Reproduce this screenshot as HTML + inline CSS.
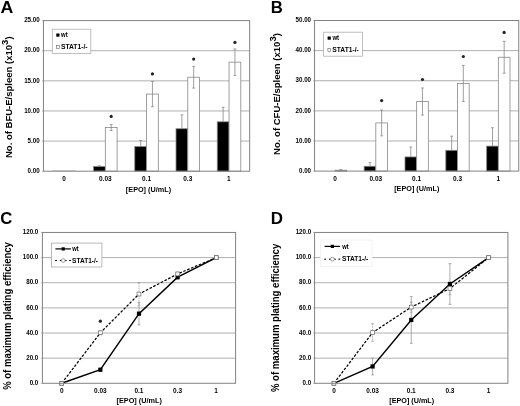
<!DOCTYPE html><html><head><meta charset="utf-8"><style>html,body{margin:0;padding:0;background:#fff;}svg{display:block;filter:blur(0.3px);}text{font-family:"Liberation Sans", sans-serif;font-weight:bold;fill:#000;}</style></head><body>
<svg width="520" height="406" viewBox="0 0 520 406">
<rect width="520" height="406" fill="#fff"/>
<line x1="41.85" y1="171.20" x2="43.45" y2="171.20" stroke="#b4b4b4" stroke-width="0.8" />
<text x="27.59" y="172.90" font-size="7.00" textLength="12.07" lengthAdjust="spacingAndGlyphs">0.00</text>
<line x1="43.45" y1="141.08" x2="249.65" y2="141.08" stroke="#b0b0b0" stroke-width="1" />
<line x1="41.85" y1="141.08" x2="43.45" y2="141.08" stroke="#b4b4b4" stroke-width="0.8" />
<text x="27.59" y="142.78" font-size="7.00" textLength="12.07" lengthAdjust="spacingAndGlyphs">5.00</text>
<line x1="43.45" y1="110.96" x2="249.65" y2="110.96" stroke="#b0b0b0" stroke-width="1" />
<line x1="41.85" y1="110.96" x2="43.45" y2="110.96" stroke="#b4b4b4" stroke-width="0.8" />
<text x="24.14" y="112.66" font-size="7.00" textLength="15.52" lengthAdjust="spacingAndGlyphs">10.00</text>
<line x1="43.45" y1="80.84" x2="249.65" y2="80.84" stroke="#b0b0b0" stroke-width="1" />
<line x1="41.85" y1="80.84" x2="43.45" y2="80.84" stroke="#b4b4b4" stroke-width="0.8" />
<text x="24.14" y="82.54" font-size="7.00" textLength="15.52" lengthAdjust="spacingAndGlyphs">15.00</text>
<line x1="43.45" y1="50.72" x2="249.65" y2="50.72" stroke="#b0b0b0" stroke-width="1" />
<line x1="41.85" y1="50.72" x2="43.45" y2="50.72" stroke="#b4b4b4" stroke-width="0.8" />
<text x="24.14" y="52.42" font-size="7.00" textLength="15.52" lengthAdjust="spacingAndGlyphs">20.00</text>
<line x1="41.85" y1="20.60" x2="43.45" y2="20.60" stroke="#b4b4b4" stroke-width="0.8" />
<text x="24.14" y="22.30" font-size="7.00" textLength="15.52" lengthAdjust="spacingAndGlyphs">25.00</text>
<text x="62.27" y="180.60" font-size="7.00" textLength="3.61" lengthAdjust="spacingAndGlyphs">0</text>
<text x="98.97" y="180.60" font-size="7.00" textLength="12.65" lengthAdjust="spacingAndGlyphs">0.03</text>
<text x="141.99" y="180.60" font-size="7.00" textLength="9.04" lengthAdjust="spacingAndGlyphs">0.1</text>
<text x="183.26" y="180.60" font-size="7.00" textLength="9.04" lengthAdjust="spacingAndGlyphs">0.3</text>
<text x="227.11" y="180.60" font-size="7.00" textLength="3.61" lengthAdjust="spacingAndGlyphs">1</text>
<text x="125.89" y="192.20" font-size="7.20" textLength="45.17" lengthAdjust="spacingAndGlyphs">[EPO] (U/mL)</text>
<text transform="translate(11.80,158.04) rotate(-90)" x="0" y="0" font-size="9.40" textLength="121.61" lengthAdjust="spacingAndGlyphs">No. of BFU-E/spleen (x10<tspan font-size="9.40" dy="-3.80">3</tspan><tspan dy="3.80">)</tspan></text>
<text x="0.56" y="13.00" font-size="16.00" textLength="12.81" lengthAdjust="spacingAndGlyphs">A</text>
<line x1="52.29" y1="170.60" x2="75.85" y2="170.60" stroke="#c8c8c8" stroke-width="0.8" />
<rect x="93.53" y="166.50" width="11.78" height="4.70" fill="#000" stroke="#888888" stroke-width="0.8" />
<line x1="99.42" y1="165.78" x2="99.42" y2="166.50" stroke="#888888" stroke-width="0.8" />
<line x1="98.02" y1="165.78" x2="100.82" y2="165.78" stroke="#888888" stroke-width="0.8" />
<rect x="105.31" y="127.53" width="11.78" height="43.67" fill="#fff" stroke="#888888" stroke-width="0.8" />
<line x1="111.20" y1="124.51" x2="111.20" y2="130.54" stroke="#888888" stroke-width="0.8" />
<line x1="109.80" y1="124.51" x2="112.60" y2="124.51" stroke="#888888" stroke-width="0.8" />
<line x1="109.80" y1="130.54" x2="112.60" y2="130.54" stroke="#888888" stroke-width="0.8" />
<circle cx="111.20" cy="116.40" r="1.6" fill="#222"/>
<rect x="134.77" y="146.50" width="11.78" height="24.70" fill="#000" stroke="#888888" stroke-width="0.8" />
<line x1="140.66" y1="140.48" x2="140.66" y2="146.50" stroke="#888888" stroke-width="0.8" />
<line x1="139.26" y1="140.48" x2="142.06" y2="140.48" stroke="#888888" stroke-width="0.8" />
<rect x="146.55" y="94.09" width="11.78" height="77.11" fill="#fff" stroke="#888888" stroke-width="0.8" />
<line x1="152.44" y1="81.44" x2="152.44" y2="106.74" stroke="#888888" stroke-width="0.8" />
<line x1="151.04" y1="81.44" x2="153.84" y2="81.44" stroke="#888888" stroke-width="0.8" />
<line x1="151.04" y1="106.74" x2="153.84" y2="106.74" stroke="#888888" stroke-width="0.8" />
<circle cx="152.44" cy="73.90" r="1.6" fill="#222"/>
<rect x="176.01" y="128.73" width="11.78" height="42.47" fill="#000" stroke="#888888" stroke-width="0.8" />
<line x1="181.90" y1="114.88" x2="181.90" y2="128.73" stroke="#888888" stroke-width="0.8" />
<line x1="180.50" y1="114.88" x2="183.30" y2="114.88" stroke="#888888" stroke-width="0.8" />
<rect x="187.79" y="77.23" width="11.78" height="93.97" fill="#fff" stroke="#888888" stroke-width="0.8" />
<line x1="193.68" y1="66.38" x2="193.68" y2="88.07" stroke="#888888" stroke-width="0.8" />
<line x1="192.28" y1="66.38" x2="195.08" y2="66.38" stroke="#888888" stroke-width="0.8" />
<line x1="192.28" y1="88.07" x2="195.08" y2="88.07" stroke="#888888" stroke-width="0.8" />
<circle cx="193.68" cy="59.10" r="1.6" fill="#222"/>
<rect x="217.25" y="121.80" width="11.78" height="49.40" fill="#000" stroke="#888888" stroke-width="0.8" />
<line x1="223.14" y1="107.35" x2="223.14" y2="121.80" stroke="#888888" stroke-width="0.8" />
<line x1="221.74" y1="107.35" x2="224.54" y2="107.35" stroke="#888888" stroke-width="0.8" />
<rect x="229.03" y="62.17" width="11.78" height="109.03" fill="#fff" stroke="#888888" stroke-width="0.8" />
<line x1="234.92" y1="48.91" x2="234.92" y2="75.42" stroke="#888888" stroke-width="0.8" />
<line x1="233.52" y1="48.91" x2="236.32" y2="48.91" stroke="#888888" stroke-width="0.8" />
<line x1="233.52" y1="75.42" x2="236.32" y2="75.42" stroke="#888888" stroke-width="0.8" />
<circle cx="234.92" cy="42.40" r="1.6" fill="#222"/>
<rect x="43.45" y="20.60" width="206.20" height="150.60" fill="none" stroke="#828282" stroke-width="1" />
<rect x="52.30" y="29.20" width="38.50" height="24.20" fill="#fff" stroke="#b0b0b0" stroke-width="0.8" />
<rect x="56.30" y="33.50" width="3.20" height="3.20" fill="#000" stroke="none" stroke-width="1" />
<text x="61.12" y="37.30" font-size="6.30" textLength="6.66" lengthAdjust="spacingAndGlyphs">wt</text>
<rect x="56.60" y="45.60" width="2.80" height="2.80" fill="#fff" stroke="#666" stroke-width="0.6" />
<text x="60.91" y="48.80" font-size="6.30" textLength="26.65" lengthAdjust="spacingAndGlyphs">STAT1-/-</text>
<line x1="312.95" y1="171.10" x2="314.55" y2="171.10" stroke="#b4b4b4" stroke-width="0.8" />
<text x="298.99" y="172.80" font-size="7.00" textLength="12.07" lengthAdjust="spacingAndGlyphs">0.00</text>
<line x1="314.55" y1="140.98" x2="518.75" y2="140.98" stroke="#b0b0b0" stroke-width="1" />
<line x1="312.95" y1="140.98" x2="314.55" y2="140.98" stroke="#b4b4b4" stroke-width="0.8" />
<text x="295.54" y="142.68" font-size="7.00" textLength="15.52" lengthAdjust="spacingAndGlyphs">10.00</text>
<line x1="314.55" y1="110.86" x2="518.75" y2="110.86" stroke="#b0b0b0" stroke-width="1" />
<line x1="312.95" y1="110.86" x2="314.55" y2="110.86" stroke="#b4b4b4" stroke-width="0.8" />
<text x="295.54" y="112.56" font-size="7.00" textLength="15.52" lengthAdjust="spacingAndGlyphs">20.00</text>
<line x1="314.55" y1="80.74" x2="518.75" y2="80.74" stroke="#b0b0b0" stroke-width="1" />
<line x1="312.95" y1="80.74" x2="314.55" y2="80.74" stroke="#b4b4b4" stroke-width="0.8" />
<text x="295.54" y="82.44" font-size="7.00" textLength="15.52" lengthAdjust="spacingAndGlyphs">30.00</text>
<line x1="314.55" y1="50.62" x2="518.75" y2="50.62" stroke="#b0b0b0" stroke-width="1" />
<line x1="312.95" y1="50.62" x2="314.55" y2="50.62" stroke="#b4b4b4" stroke-width="0.8" />
<text x="295.54" y="52.32" font-size="7.00" textLength="15.52" lengthAdjust="spacingAndGlyphs">40.00</text>
<line x1="312.95" y1="20.50" x2="314.55" y2="20.50" stroke="#b4b4b4" stroke-width="0.8" />
<text x="295.54" y="22.20" font-size="7.00" textLength="15.52" lengthAdjust="spacingAndGlyphs">50.00</text>
<text x="333.17" y="180.80" font-size="7.00" textLength="3.61" lengthAdjust="spacingAndGlyphs">0</text>
<text x="369.47" y="180.80" font-size="7.00" textLength="12.65" lengthAdjust="spacingAndGlyphs">0.03</text>
<text x="412.09" y="180.80" font-size="7.00" textLength="9.04" lengthAdjust="spacingAndGlyphs">0.1</text>
<text x="452.96" y="180.80" font-size="7.00" textLength="9.04" lengthAdjust="spacingAndGlyphs">0.3</text>
<text x="496.41" y="180.80" font-size="7.00" textLength="3.61" lengthAdjust="spacingAndGlyphs">1</text>
<text x="394.19" y="190.80" font-size="7.20" textLength="45.17" lengthAdjust="spacingAndGlyphs">[EPO] (U/mL)</text>
<text transform="translate(280.10,154.94) rotate(-90)" x="0" y="0" font-size="9.40" textLength="121.81" lengthAdjust="spacingAndGlyphs">No. of CFU-E/spleen (x10<tspan font-size="9.40" dy="-3.80">3</tspan><tspan dy="3.80">)</tspan></text>
<text x="270.88" y="13.00" font-size="16.00" textLength="12.08" lengthAdjust="spacingAndGlyphs">B</text>
<rect x="334.97" y="170.20" width="11.67" height="0.90" fill="#fff" stroke="#888888" stroke-width="0.8" />
<line x1="340.80" y1="169.59" x2="340.80" y2="170.80" stroke="#888888" stroke-width="0.8" />
<line x1="339.40" y1="169.59" x2="342.20" y2="169.59" stroke="#888888" stroke-width="0.8" />
<line x1="339.40" y1="170.80" x2="342.20" y2="170.80" stroke="#888888" stroke-width="0.8" />
<rect x="364.14" y="166.28" width="11.67" height="4.82" fill="#000" stroke="#888888" stroke-width="0.8" />
<line x1="369.98" y1="162.67" x2="369.98" y2="166.28" stroke="#888888" stroke-width="0.8" />
<line x1="368.58" y1="162.67" x2="371.38" y2="162.67" stroke="#888888" stroke-width="0.8" />
<rect x="375.81" y="122.91" width="11.67" height="48.19" fill="#fff" stroke="#888888" stroke-width="0.8" />
<line x1="381.64" y1="109.96" x2="381.64" y2="135.86" stroke="#888888" stroke-width="0.8" />
<line x1="380.24" y1="109.96" x2="383.04" y2="109.96" stroke="#888888" stroke-width="0.8" />
<line x1="380.24" y1="135.86" x2="383.04" y2="135.86" stroke="#888888" stroke-width="0.8" />
<circle cx="381.64" cy="100.60" r="1.6" fill="#222"/>
<rect x="404.98" y="156.94" width="11.67" height="14.16" fill="#000" stroke="#888888" stroke-width="0.8" />
<line x1="410.82" y1="147.00" x2="410.82" y2="156.94" stroke="#888888" stroke-width="0.8" />
<line x1="409.42" y1="147.00" x2="412.22" y2="147.00" stroke="#888888" stroke-width="0.8" />
<rect x="416.65" y="101.52" width="11.67" height="69.58" fill="#fff" stroke="#888888" stroke-width="0.8" />
<line x1="422.48" y1="87.97" x2="422.48" y2="115.08" stroke="#888888" stroke-width="0.8" />
<line x1="421.08" y1="87.97" x2="423.88" y2="87.97" stroke="#888888" stroke-width="0.8" />
<line x1="421.08" y1="115.08" x2="423.88" y2="115.08" stroke="#888888" stroke-width="0.8" />
<circle cx="422.48" cy="79.50" r="1.6" fill="#222"/>
<rect x="445.82" y="150.32" width="11.67" height="20.78" fill="#000" stroke="#888888" stroke-width="0.8" />
<line x1="451.66" y1="136.16" x2="451.66" y2="150.32" stroke="#888888" stroke-width="0.8" />
<line x1="450.26" y1="136.16" x2="453.06" y2="136.16" stroke="#888888" stroke-width="0.8" />
<rect x="457.49" y="83.45" width="11.67" height="87.65" fill="#fff" stroke="#888888" stroke-width="0.8" />
<line x1="463.32" y1="65.38" x2="463.32" y2="101.52" stroke="#888888" stroke-width="0.8" />
<line x1="461.92" y1="65.38" x2="464.72" y2="65.38" stroke="#888888" stroke-width="0.8" />
<line x1="461.92" y1="101.52" x2="464.72" y2="101.52" stroke="#888888" stroke-width="0.8" />
<circle cx="463.32" cy="56.50" r="1.6" fill="#222"/>
<rect x="486.66" y="146.10" width="11.67" height="25.00" fill="#000" stroke="#888888" stroke-width="0.8" />
<line x1="492.50" y1="127.73" x2="492.50" y2="146.10" stroke="#888888" stroke-width="0.8" />
<line x1="491.10" y1="127.73" x2="493.90" y2="127.73" stroke="#888888" stroke-width="0.8" />
<rect x="498.33" y="57.25" width="11.67" height="113.85" fill="#fff" stroke="#888888" stroke-width="0.8" />
<line x1="504.16" y1="41.28" x2="504.16" y2="73.21" stroke="#888888" stroke-width="0.8" />
<line x1="502.76" y1="41.28" x2="505.56" y2="41.28" stroke="#888888" stroke-width="0.8" />
<line x1="502.76" y1="73.21" x2="505.56" y2="73.21" stroke="#888888" stroke-width="0.8" />
<circle cx="504.16" cy="32.40" r="1.6" fill="#222"/>
<rect x="314.55" y="20.50" width="204.20" height="150.60" fill="none" stroke="#828282" stroke-width="1" />
<rect x="323.60" y="32.20" width="38.90" height="24.00" fill="#fff" stroke="#b0b0b0" stroke-width="0.8" />
<rect x="327.60" y="36.50" width="3.20" height="3.20" fill="#000" stroke="none" stroke-width="1" />
<text x="332.42" y="40.30" font-size="6.30" textLength="6.66" lengthAdjust="spacingAndGlyphs">wt</text>
<rect x="327.90" y="48.60" width="2.80" height="2.80" fill="#fff" stroke="#666" stroke-width="0.6" />
<text x="332.21" y="51.80" font-size="6.30" textLength="26.65" lengthAdjust="spacingAndGlyphs">STAT1-/-</text>
<line x1="40.80" y1="383.30" x2="42.40" y2="383.30" stroke="#b4b4b4" stroke-width="0.8" />
<text x="29.64" y="385.00" font-size="7.00" textLength="8.62" lengthAdjust="spacingAndGlyphs">0.0</text>
<line x1="42.40" y1="358.16" x2="235.60" y2="358.16" stroke="#b0b0b0" stroke-width="1" />
<line x1="40.80" y1="358.16" x2="42.40" y2="358.16" stroke="#b4b4b4" stroke-width="0.8" />
<text x="26.19" y="359.86" font-size="7.00" textLength="12.07" lengthAdjust="spacingAndGlyphs">20.0</text>
<line x1="42.40" y1="333.02" x2="235.60" y2="333.02" stroke="#b0b0b0" stroke-width="1" />
<line x1="40.80" y1="333.02" x2="42.40" y2="333.02" stroke="#b4b4b4" stroke-width="0.8" />
<text x="26.19" y="334.72" font-size="7.00" textLength="12.07" lengthAdjust="spacingAndGlyphs">40.0</text>
<line x1="42.40" y1="307.88" x2="235.60" y2="307.88" stroke="#b0b0b0" stroke-width="1" />
<line x1="40.80" y1="307.88" x2="42.40" y2="307.88" stroke="#b4b4b4" stroke-width="0.8" />
<text x="26.19" y="309.57" font-size="7.00" textLength="12.07" lengthAdjust="spacingAndGlyphs">60.0</text>
<line x1="42.40" y1="282.73" x2="235.60" y2="282.73" stroke="#b0b0b0" stroke-width="1" />
<line x1="40.80" y1="282.73" x2="42.40" y2="282.73" stroke="#b4b4b4" stroke-width="0.8" />
<text x="26.19" y="284.43" font-size="7.00" textLength="12.07" lengthAdjust="spacingAndGlyphs">80.0</text>
<line x1="42.40" y1="257.59" x2="235.60" y2="257.59" stroke="#b0b0b0" stroke-width="1" />
<line x1="40.80" y1="257.59" x2="42.40" y2="257.59" stroke="#b4b4b4" stroke-width="0.8" />
<text x="22.74" y="259.29" font-size="7.00" textLength="15.52" lengthAdjust="spacingAndGlyphs">100.0</text>
<line x1="40.80" y1="232.45" x2="42.40" y2="232.45" stroke="#b4b4b4" stroke-width="0.8" />
<text x="22.74" y="234.15" font-size="7.00" textLength="15.52" lengthAdjust="spacingAndGlyphs">120.0</text>
<text x="59.92" y="392.90" font-size="7.00" textLength="3.61" lengthAdjust="spacingAndGlyphs">0</text>
<text x="94.02" y="392.90" font-size="7.00" textLength="12.65" lengthAdjust="spacingAndGlyphs">0.03</text>
<text x="134.44" y="392.90" font-size="7.00" textLength="9.04" lengthAdjust="spacingAndGlyphs">0.1</text>
<text x="173.11" y="392.90" font-size="7.00" textLength="9.04" lengthAdjust="spacingAndGlyphs">0.3</text>
<text x="214.36" y="392.90" font-size="7.00" textLength="3.61" lengthAdjust="spacingAndGlyphs">1</text>
<text x="116.59" y="403.40" font-size="7.20" textLength="45.27" lengthAdjust="spacingAndGlyphs">[EPO] (U/mL)</text>
<text transform="translate(11.20,389.84) rotate(-90)" x="0" y="0" font-size="10.00" textLength="147.69" lengthAdjust="spacingAndGlyphs">% of maximum plating efficiency</text>
<text x="0.22" y="224.00" font-size="16.00" textLength="12.04" lengthAdjust="spacingAndGlyphs">C</text>
<line x1="100.36" y1="330.88" x2="100.36" y2="334.65" stroke="#999" stroke-width="0.8" stroke-dasharray="1.5,1"/>
<line x1="98.96" y1="330.88" x2="101.76" y2="330.88" stroke="#999" stroke-width="0.8" />
<line x1="98.96" y1="334.65" x2="101.76" y2="334.65" stroke="#999" stroke-width="0.8" />
<line x1="100.36" y1="368.47" x2="100.36" y2="370.98" stroke="#999" stroke-width="0.8" />
<line x1="98.96" y1="368.47" x2="101.76" y2="368.47" stroke="#999" stroke-width="0.8" />
<line x1="98.96" y1="370.98" x2="101.76" y2="370.98" stroke="#999" stroke-width="0.8" />
<line x1="139.00" y1="282.73" x2="139.00" y2="305.36" stroke="#999" stroke-width="0.8" stroke-dasharray="1.5,1"/>
<line x1="137.60" y1="282.73" x2="140.40" y2="282.73" stroke="#999" stroke-width="0.8" />
<line x1="137.60" y1="305.36" x2="140.40" y2="305.36" stroke="#999" stroke-width="0.8" />
<line x1="139.00" y1="302.60" x2="139.00" y2="324.72" stroke="#999" stroke-width="0.8" />
<line x1="137.60" y1="302.60" x2="140.40" y2="302.60" stroke="#999" stroke-width="0.8" />
<line x1="137.60" y1="324.72" x2="140.40" y2="324.72" stroke="#999" stroke-width="0.8" />
<line x1="177.64" y1="272.05" x2="177.64" y2="275.82" stroke="#999" stroke-width="0.8" stroke-dasharray="1.5,1"/>
<line x1="176.24" y1="272.05" x2="179.04" y2="272.05" stroke="#999" stroke-width="0.8" />
<line x1="176.24" y1="275.82" x2="179.04" y2="275.82" stroke="#999" stroke-width="0.8" />
<line x1="177.64" y1="275.32" x2="177.64" y2="279.09" stroke="#999" stroke-width="0.8" />
<line x1="176.24" y1="275.32" x2="179.04" y2="275.32" stroke="#999" stroke-width="0.8" />
<line x1="176.24" y1="279.09" x2="179.04" y2="279.09" stroke="#999" stroke-width="0.8" />
<polyline points="61.72,383.30 100.36,332.77 139.00,294.05 177.64,273.93 216.28,257.59" fill="none" stroke="#000" stroke-width="1.25" stroke-dasharray="2.6,1.6"/>
<polyline points="61.72,383.30 100.36,369.72 139.00,313.66 177.64,277.20 216.28,257.59" fill="none" stroke="#000" stroke-width="1.45"/>
<rect x="59.62" y="381.20" width="4.20" height="4.20" fill="#000" stroke="none" stroke-width="1" />
<rect x="98.26" y="367.62" width="4.20" height="4.20" fill="#000" stroke="none" stroke-width="1" />
<rect x="136.90" y="311.56" width="4.20" height="4.20" fill="#000" stroke="none" stroke-width="1" />
<rect x="175.54" y="275.10" width="4.20" height="4.20" fill="#000" stroke="none" stroke-width="1" />
<rect x="214.18" y="255.49" width="4.20" height="4.20" fill="#000" stroke="none" stroke-width="1" />
<rect x="59.82" y="381.40" width="3.80" height="3.80" fill="#fff" stroke="#777" stroke-width="0.8" />
<rect x="98.46" y="330.87" width="3.80" height="3.80" fill="#fff" stroke="#777" stroke-width="0.8" />
<rect x="137.10" y="292.15" width="3.80" height="3.80" fill="#fff" stroke="#777" stroke-width="0.8" />
<rect x="175.74" y="272.03" width="3.80" height="3.80" fill="#fff" stroke="#777" stroke-width="0.8" />
<rect x="214.38" y="255.69" width="3.80" height="3.80" fill="#fff" stroke="#777" stroke-width="0.8" />
<circle cx="100.36" cy="321.20" r="1.6" fill="#222"/>
<rect x="42.40" y="232.45" width="193.20" height="150.85" fill="none" stroke="#828282" stroke-width="1" />
<rect x="51.40" y="243.10" width="50.50" height="23.90" fill="#fff" stroke="#a8a8a8" stroke-width="0.8" />
<line x1="55.40" y1="248.90" x2="70.90" y2="248.90" stroke="#000" stroke-width="1.2" />
<rect x="61.60" y="247.30" width="3.20" height="3.20" fill="#000" stroke="none" stroke-width="1" />
<text x="72.32" y="251.10" font-size="6.30" textLength="6.45" lengthAdjust="spacingAndGlyphs">wt</text>
<line x1="55.10" y1="260.50" x2="56.90" y2="260.50" stroke="#000" stroke-width="1.1" />
<line x1="59.80" y1="260.50" x2="66.60" y2="260.50" stroke="#000" stroke-width="1.1" />
<line x1="69.20" y1="260.50" x2="71.00" y2="260.50" stroke="#000" stroke-width="1.1" />
<circle cx="63.20" cy="260.50" r="1.9" fill="#fff" stroke="#888" stroke-width="0.8"/>
<text x="72.12" y="262.70" font-size="6.30" textLength="25.93" lengthAdjust="spacingAndGlyphs">STAT1-/-</text>
<line x1="313.00" y1="383.30" x2="314.60" y2="383.30" stroke="#b4b4b4" stroke-width="0.8" />
<text x="302.54" y="385.00" font-size="7.00" textLength="8.62" lengthAdjust="spacingAndGlyphs">0.0</text>
<line x1="314.60" y1="358.16" x2="507.90" y2="358.16" stroke="#b0b0b0" stroke-width="1" />
<line x1="313.00" y1="358.16" x2="314.60" y2="358.16" stroke="#b4b4b4" stroke-width="0.8" />
<text x="299.09" y="359.86" font-size="7.00" textLength="12.07" lengthAdjust="spacingAndGlyphs">20.0</text>
<line x1="314.60" y1="333.02" x2="507.90" y2="333.02" stroke="#b0b0b0" stroke-width="1" />
<line x1="313.00" y1="333.02" x2="314.60" y2="333.02" stroke="#b4b4b4" stroke-width="0.8" />
<text x="299.09" y="334.72" font-size="7.00" textLength="12.07" lengthAdjust="spacingAndGlyphs">40.0</text>
<line x1="314.60" y1="307.88" x2="507.90" y2="307.88" stroke="#b0b0b0" stroke-width="1" />
<line x1="313.00" y1="307.88" x2="314.60" y2="307.88" stroke="#b4b4b4" stroke-width="0.8" />
<text x="299.09" y="309.57" font-size="7.00" textLength="12.07" lengthAdjust="spacingAndGlyphs">60.0</text>
<line x1="314.60" y1="282.73" x2="507.90" y2="282.73" stroke="#b0b0b0" stroke-width="1" />
<line x1="313.00" y1="282.73" x2="314.60" y2="282.73" stroke="#b4b4b4" stroke-width="0.8" />
<text x="299.09" y="284.43" font-size="7.00" textLength="12.07" lengthAdjust="spacingAndGlyphs">80.0</text>
<line x1="314.60" y1="257.59" x2="507.90" y2="257.59" stroke="#b0b0b0" stroke-width="1" />
<line x1="313.00" y1="257.59" x2="314.60" y2="257.59" stroke="#b4b4b4" stroke-width="0.8" />
<text x="295.64" y="259.29" font-size="7.00" textLength="15.52" lengthAdjust="spacingAndGlyphs">100.0</text>
<line x1="313.00" y1="232.45" x2="314.60" y2="232.45" stroke="#b4b4b4" stroke-width="0.8" />
<text x="295.64" y="234.15" font-size="7.00" textLength="15.52" lengthAdjust="spacingAndGlyphs">120.0</text>
<text x="332.13" y="392.90" font-size="7.00" textLength="3.61" lengthAdjust="spacingAndGlyphs">0</text>
<text x="366.25" y="392.90" font-size="7.00" textLength="12.65" lengthAdjust="spacingAndGlyphs">0.03</text>
<text x="406.69" y="392.90" font-size="7.00" textLength="9.04" lengthAdjust="spacingAndGlyphs">0.1</text>
<text x="445.38" y="392.90" font-size="7.00" textLength="9.04" lengthAdjust="spacingAndGlyphs">0.3</text>
<text x="486.65" y="392.90" font-size="7.00" textLength="3.61" lengthAdjust="spacingAndGlyphs">1</text>
<text x="389.30" y="403.40" font-size="7.20" textLength="44.86" lengthAdjust="spacingAndGlyphs">[EPO] (U/mL)</text>
<text transform="translate(278.70,392.04) rotate(-90)" x="0" y="0" font-size="10.00" textLength="148.29" lengthAdjust="spacingAndGlyphs">% of maximum plating efficiency</text>
<text x="270.67" y="224.00" font-size="16.00" textLength="12.25" lengthAdjust="spacingAndGlyphs">D</text>
<line x1="372.59" y1="323.71" x2="372.59" y2="341.31" stroke="#999" stroke-width="0.8" stroke-dasharray="1.5,1"/>
<line x1="371.19" y1="323.71" x2="373.99" y2="323.71" stroke="#999" stroke-width="0.8" />
<line x1="371.19" y1="341.31" x2="373.99" y2="341.31" stroke="#999" stroke-width="0.8" />
<line x1="372.59" y1="358.03" x2="372.59" y2="374.88" stroke="#999" stroke-width="0.8" />
<line x1="371.19" y1="358.03" x2="373.99" y2="358.03" stroke="#999" stroke-width="0.8" />
<line x1="371.19" y1="374.88" x2="373.99" y2="374.88" stroke="#999" stroke-width="0.8" />
<line x1="411.25" y1="302.09" x2="411.25" y2="312.15" stroke="#999" stroke-width="0.8" stroke-dasharray="1.5,1"/>
<line x1="409.85" y1="302.09" x2="412.65" y2="302.09" stroke="#999" stroke-width="0.8" />
<line x1="409.85" y1="312.15" x2="412.65" y2="312.15" stroke="#999" stroke-width="0.8" />
<line x1="411.25" y1="296.56" x2="411.25" y2="343.32" stroke="#999" stroke-width="0.8" />
<line x1="409.85" y1="296.56" x2="412.65" y2="296.56" stroke="#999" stroke-width="0.8" />
<line x1="409.85" y1="343.32" x2="412.65" y2="343.32" stroke="#999" stroke-width="0.8" />
<line x1="449.91" y1="282.23" x2="449.91" y2="294.80" stroke="#999" stroke-width="0.8" stroke-dasharray="1.5,1"/>
<line x1="448.51" y1="282.23" x2="451.31" y2="282.23" stroke="#999" stroke-width="0.8" />
<line x1="448.51" y1="294.80" x2="451.31" y2="294.80" stroke="#999" stroke-width="0.8" />
<line x1="449.91" y1="263.63" x2="449.91" y2="304.36" stroke="#999" stroke-width="0.8" />
<line x1="448.51" y1="263.63" x2="451.31" y2="263.63" stroke="#999" stroke-width="0.8" />
<line x1="448.51" y1="304.36" x2="451.31" y2="304.36" stroke="#999" stroke-width="0.8" />
<polyline points="333.93,383.30 372.59,332.51 411.25,307.12 449.91,288.52 488.57,257.59" fill="none" stroke="#000" stroke-width="1.25" stroke-dasharray="2.6,1.6"/>
<polyline points="333.93,383.30 372.59,366.46 411.25,319.94 449.91,283.99 488.57,257.59" fill="none" stroke="#000" stroke-width="1.45"/>
<rect x="331.83" y="381.20" width="4.20" height="4.20" fill="#000" stroke="none" stroke-width="1" />
<rect x="370.49" y="364.36" width="4.20" height="4.20" fill="#000" stroke="none" stroke-width="1" />
<rect x="409.15" y="317.84" width="4.20" height="4.20" fill="#000" stroke="none" stroke-width="1" />
<rect x="447.81" y="281.89" width="4.20" height="4.20" fill="#000" stroke="none" stroke-width="1" />
<rect x="486.47" y="255.49" width="4.20" height="4.20" fill="#000" stroke="none" stroke-width="1" />
<rect x="332.03" y="381.40" width="3.80" height="3.80" fill="#fff" stroke="#777" stroke-width="0.8" />
<rect x="370.69" y="330.61" width="3.80" height="3.80" fill="#fff" stroke="#777" stroke-width="0.8" />
<rect x="409.35" y="305.22" width="3.80" height="3.80" fill="#fff" stroke="#777" stroke-width="0.8" />
<rect x="448.01" y="286.62" width="3.80" height="3.80" fill="#fff" stroke="#777" stroke-width="0.8" />
<rect x="486.67" y="255.69" width="3.80" height="3.80" fill="#fff" stroke="#777" stroke-width="0.8" />
<rect x="314.60" y="232.45" width="193.30" height="150.85" fill="none" stroke="#828282" stroke-width="1" />
<rect x="320.60" y="240.00" width="51.40" height="26.50" fill="#fff" stroke="#f0f0f0" stroke-width="0.8" />
<line x1="324.60" y1="246.40" x2="340.10" y2="246.40" stroke="#000" stroke-width="1.2" />
<rect x="330.80" y="244.80" width="3.20" height="3.20" fill="#000" stroke="none" stroke-width="1" />
<text x="342.32" y="248.60" font-size="6.30" textLength="6.45" lengthAdjust="spacingAndGlyphs">wt</text>
<line x1="324.30" y1="259.20" x2="326.10" y2="259.20" stroke="#000" stroke-width="1.1" />
<line x1="329.00" y1="259.20" x2="335.80" y2="259.20" stroke="#000" stroke-width="1.1" />
<line x1="338.40" y1="259.20" x2="340.20" y2="259.20" stroke="#000" stroke-width="1.1" />
<circle cx="332.40" cy="259.20" r="1.9" fill="#fff" stroke="#888" stroke-width="0.8"/>
<text x="342.12" y="261.40" font-size="6.30" textLength="26.14" lengthAdjust="spacingAndGlyphs">STAT1-/-</text>
</svg></body></html>
